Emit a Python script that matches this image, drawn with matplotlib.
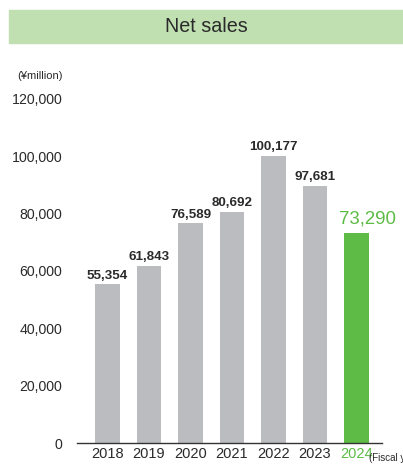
import matplotlib
matplotlib.use("Agg")
import matplotlib.pyplot as plt
from matplotlib.patches import Rectangle

plt.rcParams['font.family'] = ['Liberation Sans', 'DejaVu Sans']

years = ["2018", "2019", "2020", "2021", "2022", "2023", "2024"]
sales = [55354, 61843, 76589, 80692, 100177, 97681, 73290]
# bar heights as drawn in the reference (2023 bar is drawn lower than its label)
bar_heights = [55354, 61843, 76589, 80692, 100177, 89700, 73290]
yticks = [0, 20000, 40000, 60000, 80000, 100000, 120000]

GRAY = "#bbbcc0"
GREEN = "#5dbb46"
TXT = "#2a2a2a"

W, H = 403, 465
fig = plt.figure(figsize=(W / 100, H / 100), dpi=100)

# title band
fig.patches.append(Rectangle((9 / W, 1 - 43 / H), (W - 9) / W, 33 / H,
                             transform=fig.transFigure, color="#c1e0b1", zorder=0))
fig.text(206 / W, 1 - 27 / H, "Net sales", ha="center", va="center",
         fontsize=14.2, color=TXT)

ax = fig.add_axes([77 / W, 22 / H, (382 - 77) / W, (443 - 99) / H])
x = list(range(len(years)))
colors = [GRAY] * (len(years) - 1) + [GREEN]
ax.bar(x, bar_heights, width=0.6, color=colors, zorder=2)

ax.set_xlim(-0.735, 6.614)
ax.set_ylim(0, 120000)
ax.set_yticks(yticks)
ax.set_yticklabels([f"{v:,}" for v in yticks], fontsize=10.2, color=TXT)
ax.set_xticks(x)
ax.set_xticklabels(years, fontsize=10.5, color=TXT)
ax.get_xticklabels()[-1].set_color(GREEN)
ax.tick_params(axis="y", length=0, pad=10.5)
ax.tick_params(axis="x", length=0, pad=3)
for s in ["top", "right", "left"]:
    ax.spines[s].set_visible(False)
ax.spines["bottom"].set_color("#333333")
ax.spines["bottom"].set_linewidth(1.0)
ax.patch.set_alpha(0)

for i, (h, v) in enumerate(zip(bar_heights, sales)):
    if i == len(years) - 1:
        ax.annotate(f"{v:,}", (i, h), xytext=(8, 4), textcoords="offset points",
                    ha="center", va="bottom", fontsize=13.4, color=GREEN)
    else:
        ax.annotate(f"{v:,}", (i, h), xytext=(0, 2), textcoords="offset points",
                    ha="center", va="bottom", fontsize=9.6, fontweight="bold",
                    color=TXT)

fig.text(40 / W, 1 - 76 / H, "(¥million)", ha="center", va="center",
         fontsize=8, color=TXT)
fig.text(369 / W, 1 - 458 / H, "(Fiscal year)", ha="left", va="center",
         fontsize=7, color=TXT)

fig.savefig("out.png", dpi=100)
